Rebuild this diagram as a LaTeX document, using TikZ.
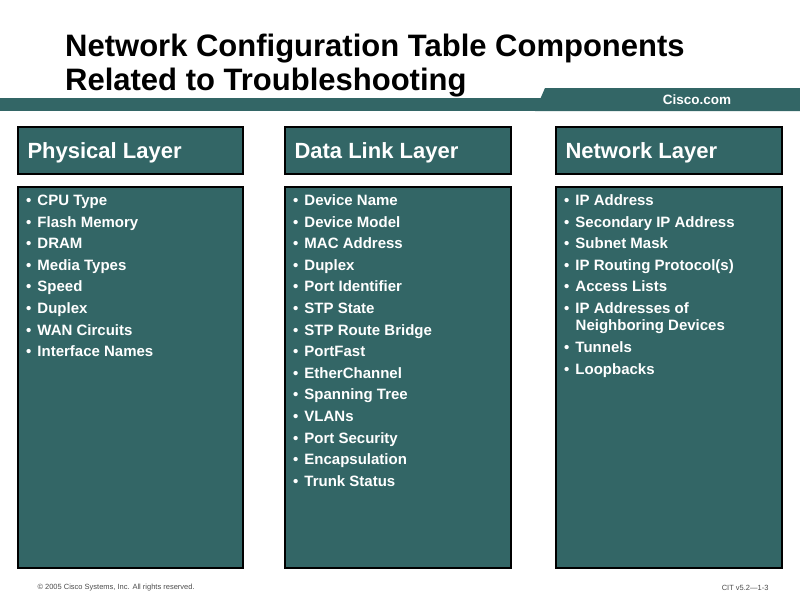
\documentclass[tikz,border=0pt]{standalone}
\usepackage{fontspec}
\setmainfont{Liberation Sans}
\usetikzlibrary{positioning}
\definecolor{ciscoteal}{RGB}{51,102,102}
\tikzstyle{layerbox}=[draw=black,line width=1.2pt,fill=ciscoteal]
\tikzstyle{layertitle}=[anchor=base west,text=white,font=\fontsize{22}{22}\selectfont\bfseries]
\tikzstyle{item}=[anchor=base west,inner sep=0pt,text=white,font=\fontsize{15}{21.6}\selectfont\bfseries,align=left]
\newcommand{\bulitem}[3]{\node[item] at (#1,#2) {\textbullet\hspace{6pt}#3};}

\begin{document}
\begin{tikzpicture}[x=1pt,y=-1pt]
  \useasboundingbox (0,0) rectangle (800,600);
  % title
  \node[anchor=north west,inner sep=0pt,align=left,font=\fontsize{31}{34}\selectfont\bfseries] (title) at (65,34) {Network Configuration Table Components\\Related to Troubleshooting};
  % banner
  \fill[ciscoteal] (0,98) rectangle (800,111);
  \fill[ciscoteal] (535,111) -- (545,88) -- (800,88) -- (800,111) -- cycle;
  \node[text=white,font=\fontsize{13.5}{14}\selectfont\bfseries] (cisco) at (697,100) {Cisco.com};
  % columns
  \foreach \x/\w/\name in {18/225/Physical Layer,285/226/Data Link Layer,556/226/Network Layer}{
    \draw[layerbox] (\x,127) rectangle ++(\w,47);
    \draw[layerbox] (\x,187) rectangle ++(\w,381);
    \node[layertitle] at (\x+6,158) {\name};
  }
  % physical
  \foreach \t [count=\i from 0] in {CPU Type,Flash Memory,DRAM,Media Types,Speed,Duplex,WAN Circuits,Interface Names}
    {\bulitem{26}{205.5+21.6*\i}{\t}}
  % data link
  \foreach \t [count=\i from 0] in {Device Name,Device Model,MAC Address,Duplex,Port Identifier,STP State,STP Route Bridge,PortFast,EtherChannel,Spanning Tree,VLANs,Port Security,Encapsulation,Trunk Status}
    {\bulitem{293}{205.5+21.6*\i}{\t}}
  % network
  \foreach \t [count=\i from 0] in {IP Address,Secondary IP Address,Subnet Mask,IP Routing Protocol(s),Access Lists}
    {\bulitem{564}{205.5+21.6*\i}{\t}}
  \node[item] (neigh) at (564,313.5) {\textbullet\hspace{6pt}IP Addresses of};
  \node[item] (neigh2) at (575.5,330.5) {Neighboring Devices};
  \bulitem{564}{352.5}{Tunnels}
  \bulitem{564}{374}{Loopbacks}
  % footer
  \node[anchor=west,font=\fontsize{7.5}{8}\selectfont,text=black!70] (copy) at (34,588) {\copyright\ 2005 Cisco Systems, Inc. All rights reserved.};
  \node[anchor=east,font=\fontsize{7.5}{8}\selectfont,text=black!70] (ver) at (772,588) {CIT v5.2---1-3};
\end{tikzpicture}
\end{document}
